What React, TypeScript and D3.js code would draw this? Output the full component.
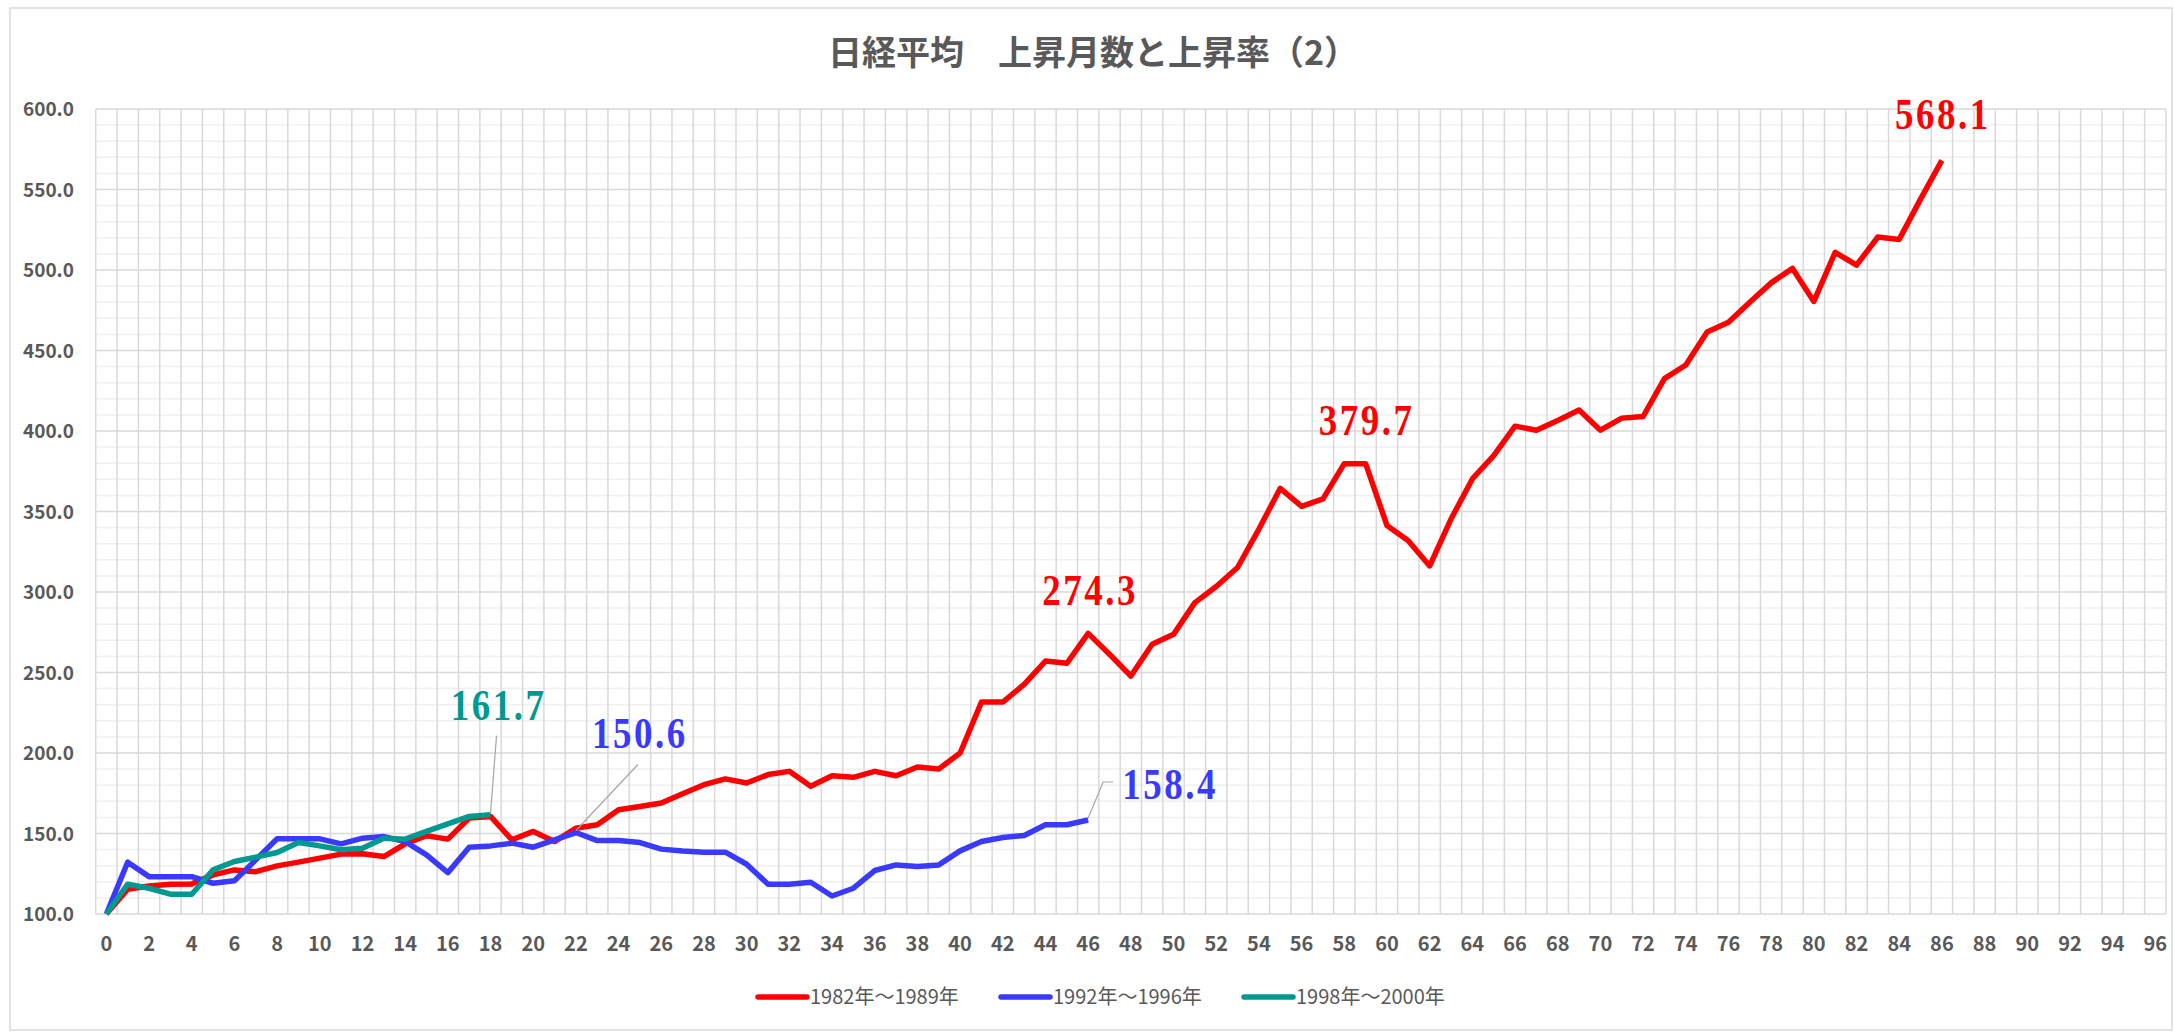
import * as d3 from 'd3';

const months = d3.range(0, 97);
const xTickLabels = d3.range(0, 97, 2);
const yTicks = [100, 150, 200, 250, 300, 350, 400, 450, 500, 550, 600];

const series1982 = [
  100, 115.4, 117.4, 118.5, 118.7, 124.3, 127.4, 126.3, 129.9, 132.2,
  134.7, 137.2, 137.4, 135.7, 143.6, 148.6, 146.5, 159.6, 160.6, 146.1,
  151.3, 145.0, 153.3, 155.4, 164.8, 166.8, 168.9, 174.7, 180.3, 183.9,
  181.4, 186.6, 188.6, 179.3, 185.9, 184.9, 188.6, 185.9, 191.3, 190.1,
  200.0, 231.6, 231.6, 242.6, 257.1, 255.7, 274.3, 261.3, 247.8, 267.5,
  273.7, 293.4, 303.4, 315.2, 339.1, 364.4, 353.2, 357.8, 379.7, 379.7,
  341.3, 331.8, 316.2, 345.3, 370.2, 384.7, 403.0, 400.5, 406.5, 413.0,
  400.5, 408.0, 409.0, 432.5, 441.0, 461.5, 467.5, 480.0, 492.0, 501.0,
  480.5, 511.0, 503.0, 520.5, 519.0, 544.0, 568.1,
];

const series1992 = [
  100, 132.2, 123.2, 123.2, 123.2, 119.1, 120.7, 133.6, 146.7, 146.7,
  146.7, 143.6, 147.1, 148.1, 145.0, 136.7, 125.7, 141.5, 142.3, 144.0,
  141.5, 146.1, 150.6, 145.6, 145.6, 144.4, 140.3, 139.2, 138.4, 138.4,
  130.9, 118.5, 118.5, 119.7, 111.2, 116.0, 127.0, 130.5, 129.5, 130.5,
  139.2, 145.0, 147.5, 148.8, 155.4, 155.4, 158.4,
];

const series1998 = [
  100, 118.5, 116.0, 112.3, 112.3, 127.4, 132.6, 135.3, 138.2, 144.4,
  142.3, 139.9, 140.9, 147.1, 146.5, 151.3, 156.0, 160.6, 161.7,
];

const seriesNames = ['1982年～1989年', '1992年～1996年', '1998年～2000年'];
const seriesColors = ['#ff0000', '#3a3aff', '#00998f'];

const W = 2175;
const H = 1033;
const plot = { left: 95.7, right: 2166, top: 109, bottom: 914 };
const gray = '#595959';
const tickFont = '"Noto Sans CJK JP", "Noto Sans", sans-serif';
const labelFont = '"Liberation Serif", "DejaVu Serif", serif';

export default function App() {
  const x = d3.scaleBand<number>().domain(months).range([plot.left, plot.right]).padding(0);
  const bw = x.bandwidth();
  const cx = (i: number) => (x(i) as number) + bw / 2;
  const y = d3.scaleLinear().domain([100, 600]).range([plot.bottom, plot.top]);

  const line = d3.line<number>().x((_, i) => cx(i)).y(d => y(d));
  const allSeries = [series1982, series1992, series1998];

  const minorTicks = d3.range(100, 601, 10).filter(v => v % 50 !== 0);
  const boundaries = d3.range(0, 98).map(i => plot.left + i * bw);

  // data label: bold serif, squeezed a bit and spaced out like the original
  const dataLabel = (text: string, lx: number, ly: number, color: string, anchor: string) => (
    <text
      transform={`translate(${lx},${ly}) scale(0.84,1)`}
      textAnchor={anchor}
      fontFamily={labelFont}
      fontWeight="bold"
      fontSize={44}
      letterSpacing={3}
      fill={color}
    >
      {text}
    </text>
  );

  const p568 = [cx(86), y(series1982[86])];
  const p379 = [cx(59), y(series1982[59])];
  const p274 = [cx(46), y(series1982[46])];
  const p158 = [cx(46), y(series1992[46])];
  const p150 = [cx(22), y(series1992[22])];
  const p161 = [cx(18), y(series1998[18])];

  const legendX = [758, 1001, 1244];

  return (
    <div style={{ position: 'absolute', left: 0, top: 0 }}>
      <svg width={W} height={H} style={{ display: 'block', background: '#fff' }}>
        <rect x={10} y={8} width={2162} height={1022} fill="#fff" stroke="#d9d9d9" strokeWidth={1.5} />

        <text x={1093} y={65} textAnchor="middle" fontFamily={tickFont} fontWeight="bold" fontSize={34} fill={gray}>
          日経平均　上昇月数と上昇率（2）
        </text>

        {/* gridlines */}
        {minorTicks.map(v => (
          <line key={'m' + v} x1={plot.left} x2={plot.right} y1={y(v)} y2={y(v)} stroke="#f0f0f0" strokeWidth={1.5} />
        ))}
        {boundaries.map((bx, i) => (
          <line key={'v' + i} x1={bx} x2={bx} y1={plot.top} y2={plot.bottom} stroke="#d9d9d9" strokeWidth={1.5} />
        ))}
        {yTicks.map(v => (
          <line key={'h' + v} x1={plot.left} x2={plot.right} y1={y(v)} y2={y(v)} stroke="#d9d9d9" strokeWidth={1.5} />
        ))}

        {/* axis labels */}
        {yTicks.map(v => (
          <text key={'yl' + v} x={74} y={y(v) + 7} textAnchor="end" fontFamily={tickFont} fontWeight="bold" fontSize={19} fill={gray}>
            {v.toFixed(1)}
          </text>
        ))}
        {xTickLabels.map(m => (
          <text key={'xl' + m} x={cx(m)} y={951} textAnchor="middle" fontFamily={tickFont} fontWeight="bold" fontSize={20} fill={gray}>
            {m}
          </text>
        ))}

        {/* series */}
        {allSeries.map((s, k) => (
          <path key={'s' + k} d={line(s) as string} fill="none" stroke={seriesColors[k]} strokeWidth={5.5} strokeLinejoin="round" />
        ))}

        {/* leader lines */}
        <g stroke="#a6a6a6" strokeWidth={1.2} fill="none">
          <polyline points={`${p161[0]},${p161[1] - 2} ${p161[0] + 6},${p161[1] - 79}`} />
          <polyline points={`${p150[0]},${p150[1] - 2} ${p150[0] + 62},${p150[1] - 68}`} />
          <polyline points={`${p158[0]},${p158[1] - 2} ${p158[0] + 15},${p158[1] - 38} ${p158[0] + 25},${p158[1] - 38}`} />
        </g>

        {/* data labels */}
        {dataLabel(series1982[86].toFixed(1), p568[0] + 1, p568[1] - 31, seriesColors[0], 'middle')}
        {dataLabel(series1982[59].toFixed(1), p379[0] + 1, p379[1] - 29, seriesColors[0], 'middle')}
        {dataLabel(series1982[46].toFixed(1), p274[0] + 2, p274[1] - 28, seriesColors[0], 'middle')}
        {dataLabel(series1992[46].toFixed(1), p158[0] + 34, p158[1] - 21, seriesColors[1], 'start')}
        {dataLabel(series1992[22].toFixed(1), p150[0] + 64, p150[1] - 85, seriesColors[1], 'middle')}
        {dataLabel(series1998[18].toFixed(1), p161[0] + 8, p161[1] - 95, seriesColors[2], 'middle')}

        {/* legend */}
        {seriesNames.map((name, k) => (
          <g key={'lg' + k}>
            <line x1={legendX[k]} x2={legendX[k] + 49} y1={997} y2={997} stroke={seriesColors[k]} strokeWidth={5.5} strokeLinecap="round" />
            <text x={legendX[k] + 52} y={1004} fontFamily={tickFont} fontSize={20} fill={gray}>
              {name}
            </text>
          </g>
        ))}
      </svg>
    </div>
  );
}
